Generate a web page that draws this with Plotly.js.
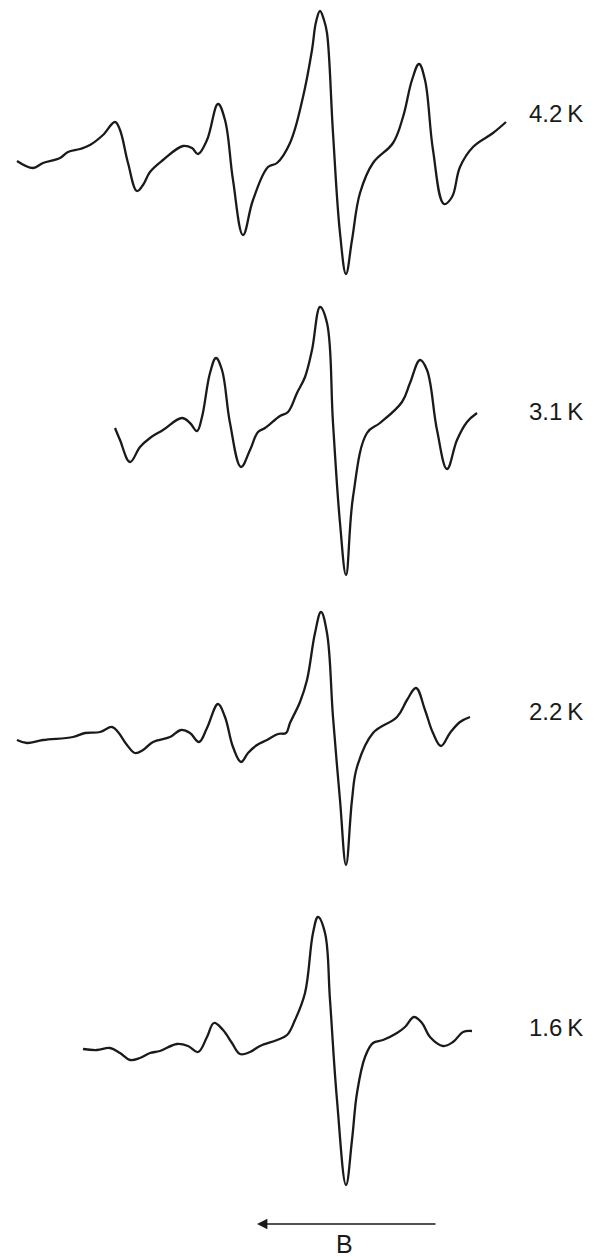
<!DOCTYPE html>
<html>
<head>
<meta charset="utf-8">
<script src="https://cdn.plot.ly/plotly-3.0.1.min.js"></script>
<style>html,body{margin:0;padding:0;background:#fff;}#chart{width:601px;height:1257px;}</style>
</head>
<body>
<div id="chart"></div>
<script>
// Field positions (arbitrary units, increasing to the right) and derivative intensities
const labels = ["4.2\u2009K", "3.1\u2009K", "2.2\u2009K", "1.6\u2009K"];
const offsets = [160, 430, 740, 1050];

const field42 = [17,33,43,60,68,80,90,103,115,120,128,137,143,150,163,183,192,198,207,218,225,233,243,253,268,277,290,303,312,316,320,324,327,333,340,346,352,360,373,393,403,412,419,425,433,444,452,460,473,493,506];
const sig42   = [-1,-8,-3,2,8,11,15,25,38,30,-3,-31,-25,-12,0,14,12,6,20,56,40,-20,-75,-40,-7,-3,17,63,110,138,149,140,127,27,-73,-114,-80,-33,-3,17,43,80,96,80,10,-44,-37,-7,13,27,38];

const field31 = [115,120,130,140,150,163,182,190,197,202,210,216,222,230,241,250,258,265,280,288,297,305,312,320,327,333,340,346,353,367,380,402,410,420,427,437,447,457,467,477];
const sig31   = [2,-10,-32,-17,-8,0,12,7,-1,13,57,72,60,7,-37,-20,-2,2,14,18,37,53,80,123,107,7,-93,-145,-67,-3,7,28,47,70,60,0,-39,-10,8,17];

const field22 = [17,27,43,73,85,100,112,118,127,135,143,153,170,181,190,199,207,218,225,233,241,248,257,267,278,286,290,300,307,315,321,327,333,340,346,352,357,373,397,407,416,425,433,441,450,460,470];
const sig22   = [0,-3,0,3,7,8,13,8,-5,-13,-10,-2,3,10,7,-2,12,36,23,-7,-22,-13,-5,0,6,7,17,38,60,107,128,107,23,-60,-125,-60,-27,7,23,40,52,30,7,-6,7,18,23];

const field16 = [83,97,110,120,130,140,150,160,177,188,198,207,214,223,232,240,250,260,277,287,295,305,313,318,325,330,337,346,352,357,365,373,383,397,405,414,422,430,443,453,463,472];
const sig16   = [1,0,2,-3,-10,-8,-3,-1,6,4,-2,13,27,20,7,-4,-2,4,10,15,30,57,117,133,117,50,-50,-135,-90,-43,-7,7,10,17,23,33,27,13,4,8,18,19];

const fields = [field42, field31, field22, field16];
const sigs = [sig42, sig31, sig22, sig16];

// Arrow for field direction
const arrowLabel = "B";
const arrowFrom = 437, arrowTo = 257;

const traces = fields.map((f, i) => ({
  x: f,
  y: sigs[i].map(v => v - offsets[i]),
  mode: "lines",
  type: "scatter",
  line: {color: "#1a1a1a", width: 2.3, shape: "spline", smoothing: 1.1},
  hoverinfo: "skip",
  showlegend: false
}));

const labelY = [113, 411, 711, 1027];
const annotations = labels.map((t, i) => ({
  x: 527, y: -labelY[i], xref: "x", yref: "y",
  text: t, showarrow: false, xanchor: "left", yanchor: "middle",
  font: {family: "Liberation Sans, Arial, sans-serif", size: 24, color: "#1a1a1a"}
}));
annotations.push({
  x: arrowTo, y: -1224, ax: arrowFrom, ay: -1224,
  xref: "x", yref: "y", axref: "x", ayref: "y",
  text: "", showarrow: true, arrowhead: 2, arrowsize: 1.3, arrowwidth: 1.6, arrowcolor: "#1a1a1a"
});
annotations.push({
  x: 344, y: -1244, xref: "x", yref: "y", text: arrowLabel, showarrow: false,
  xanchor: "center", yanchor: "middle",
  font: {family: "Liberation Sans, Arial, sans-serif", size: 25, color: "#1a1a1a"}
});

const layout = {
  width: 601, height: 1257,
  margin: {l: 0, r: 0, t: 0, b: 0},
  paper_bgcolor: "#ffffff", plot_bgcolor: "#ffffff",
  xaxis: {range: [0, 601], visible: false, fixedrange: true},
  yaxis: {range: [-1257, 0], visible: false, fixedrange: true},
  annotations: annotations,
  showlegend: false
};

Plotly.newPlot("chart", traces, layout, {staticPlot: true, displayModeBar: false});
</script>
</body>
</html>
